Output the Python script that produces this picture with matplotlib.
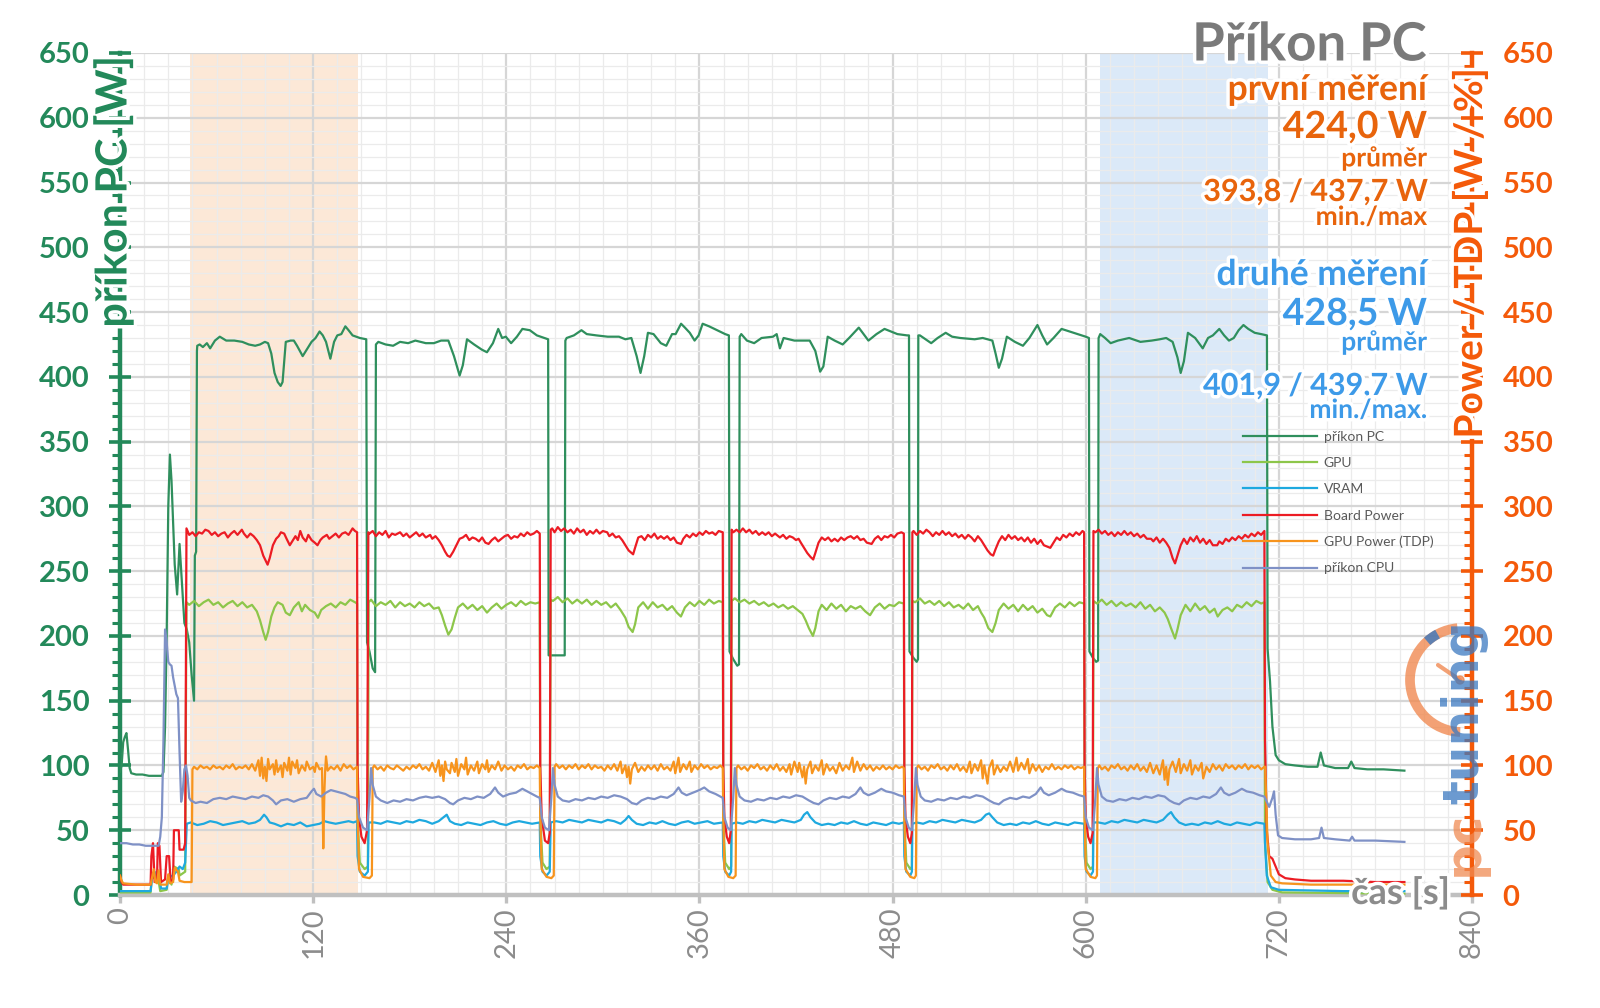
import numpy as np
import matplotlib
matplotlib.use("Agg")
import matplotlib.pyplot as plt
from matplotlib.ticker import MultipleLocator
from matplotlib.lines import Line2D
from matplotlib.patches import Arc, Circle
import matplotlib.patheffects as pe

plt.rcParams['font.family'] = ['Lato', 'DejaVu Sans']

# ---- data (time [s], value) ----
pc = [(0,95),(1,100),(2,118),(3,122),(4,125),(5,112),(6,98),(7,94),(10,93),(14,93),(18,92),(22,92),(26,92),
      (27,95),(28,130),(29,200),(30,300),(31,340),(32,320),(34,255),(35.5,232),(37,271),(38.5,240),(40,210),
      (41.5,205),(43,195),(44.5,170),(46,150),(46.5,262),(47.3,265),(47.8,420),
      (48,424),(49.5,425),(51.5,423),(54,426),(56,422),(59,428),(62,431),(66,428),(71,428),(76,427),(80,425),
      (84,424),(87,425),(90,427),(92,426),(94,418),(96,403),(98,396),(99.8,393),(101,396),(103,427),(106,428),
      (108,428),(110,424),(113.5,416),(116,421),(119,427),(121.5,430),(124,435),(126,432),(128,427),(130.7,414),
      (133,427),(135,432),(137.5,433),(140,439),(142,436),(144.5,432),(149,430),(153,429),
      (153.5,195),(155,188),(157,175),(158.5,172),(159,425),
      (160.5,427),(165,425),(169.7,424),(174,427),(179,426),(183.5,428),(190,426),(195,426),(199.5,428),
      (204,428),(207.5,416),(211,401),(213,409),(215.6,429),(220,425),(224.8,421),(228,419),(231.7,426),
      (235,437),(237.4,430),(239.7,431),(243,426),(246.6,431),(250,437),(254.6,436),(259,432),(263.8,430),
      (266,429),(266.3,185),(276.3,185),(276.7,428),
      (277.5,430),(282,432),(286.7,436),(290,433),(296,432),(303,431),(310,431),(314,429),(317.7,430),
      (321,416),(323.4,403),(325.7,416),(328,434),(331.5,433),(336,426),(339.4,424),(343,433),(345.2,433),
      (348.6,441),(351,438),(354,434),(357,428),(359.5,432),(362,441),(366,439),(371,436),(376,433),(378.3,432),
      (378.7,188),(381,182),(383.5,177),(384.6,178),(385,431),
      (386,433),(389.5,428),(394,426),(398.6,430),(405.7,431),(408,433),(410,422),(412.3,430),(419,428),
      (428.5,428),(432,420),(435,404),(437,408),(439.7,431),(444,428),(449,425),(453,430),(459,438),(465,428),
      (470,433),(475,437),(483,433),(489,432),(490.2,432),
      (490.5,188),(493,183),(495,180),(495.8,182),(496,432),
      (497,432),(504,426),(508,430),(513,434),(517,431),(522,430),(531,429),(536,430),(542,428),(544,418),
      (546,407),(548,414),(551,431),(556,427),(561,424),(565,430),(570,440),(573,432),(576,425),(580,430),
      (585,437),(590,435),(595,433),(600,431),(602,430),
      (602.3,188),(604.5,183),(606.5,180),(607.7,181),(608,430),
      (609,433),(612,430),(615.5,426),(620,428),(627,430),(634,427),(641,428),(646,429),(650,430),(654,427),
      (657,415),(659,403),(661,412),(663.5,434),(668,430),(672.7,422),(676,430),(679,432),(683,437),(686,432),
      (689,428),(692,430),(695,436),(698,440),(701,437),(705,434),(709,433),(712.6,432),
      (713,190),(714.5,165),(716,130),(718,108),(720,104),(724,101),(730,100),(738,99),(744,99),(746,110),
      (748,100),(755,98),(763,98),(765,103),(767,98),(775,97),(785,97),(798,96)]

gpu = [(0,2),(19,2),(20,15),(22,12),(23,18),(25,3),(29,4),(30,15),(32,8),(33.5,22),(36.5,20),(37,15),
       (40.5,18),(41.3,226),
       (43,224),(46,227),(49,223),(52,226),(55,228),(58,224),(61,226),(64,222),(67,225),(70,227),(73,223),
       (76,226),(79,222),(82,224),(85,219),(87,212),(89,203),(90.5,197),(92,203),(94,215),(96,222),(98,226),
       (101,224),(103,218),(105.5,216),(108,222),(111,226),(113,219),(115,224),(118,220),(121,218),(123,214),
       (125,220),(128,223),(131,225),(134,222),(137,226),(140,224),(143,228),(146,226),(147.3,225),
       (147.6,60),(149,25),(152,20),(154,22),(154.5,226),
       (156,228),(159,223),(162,226),(165,224),(168,227),(171,222),(174,226),(177,223),(180,225),(183,222),
       (186,226),(189,223),(192,225),(195,221),(198,222),(200,216),(202,208),(204,201),(206,205),(208,214),
       (210,222),(213,225),(216,221),(219,224),(222,220),(225,223),(228,218),(231,222),(234,225),(237,221),
       (240,224),(243,226),(246,223),(249,227),(252,224),(255,226),(258,225),(260.8,226),
       (261.1,60),(262.5,25),(265,20),(267,22),(267.6,228),
       (269,227),(272,230),(275,226),(278,229),(281,225),(284,228),(287,225),(290,228),(293,224),(296,227),
       (299,224),(302,226),(305,222),(308,225),(311,220),(314,214),(316,207),(318.5,203),(320,209),(322,222),
       (325,226),(328,221),(331,226),(334,222),(337,224),(340,220),(343,223),(346,218),(348.5,215),(351,222),
       (354,226),(357,223),(360,227),(363,224),(366,228),(369,225),(372,227),(374.5,226),
       (374.8,60),(376,25),(378.5,20),(379.7,22),(380,227),
       (382,229),(385,226),(388,228),(391,225),(394,227),(397,224),(400,226),(403,223),(406,225),(409,222),
       (412,224),(415,221),(418,223),(421,220),(424,217),(426,212),(428,206),(430.5,200),(432,206),(434,219),
       (436,224),(439,220),(442,225),(445,221),(448,224),(451,219),(454,223),(457,221),(460,223),(463,219),
       (466,216),(469,222),(472,225),(475,221),(478,224),(481,223),(484,226),(487,225),
       (487.3,60),(488.5,25),(491,20),(492,22),(492.3,227),
       (494,226),(497,229),(500,225),(503,227),(506,224),(509,227),(512,223),(515,226),(518,222),(521,224),
       (524,221),(527,225),(530,220),(533,223),(535,218),(537,214),(539.5,206),(542,203),(544,210),(546,220),
       (549,225),(552,221),(555,224),(558,219),(561,224),(564,220),(567,223),(570,218),(573,221),(576,216),
       (578,215),(581,222),(584,225),(587,222),(590,226),(593,223),(596,226),(599,225),
       (599.3,60),(600.5,25),(603,20),(604.5,22),(604.8,227),
       (607,225),(610,228),(613,224),(616,227),(619,223),(622,226),(625,223),(628,225),(631,222),(634,226),
       (637,221),(640,224),(643,219),(646,222),(649,218),(651,213),(653,206),(655.5,198),(657,205),(659,216),
       (662,224),(665,219),(668,225),(671,220),(674,223),(677,218),(680,221),(682,215),(685,220),(688,222),
       (691,219),(694,224),(697,222),(700,226),(703,223),(706,227),(709,225),(711,226),
       (711.4,40),(713,10),(716,4),(722,2),(798,1)]

vram = [(0,3),(19,3),(20,15),(21.5,18),(23,12),(24,18),(25.5,5),(29,5),(30,14),(33,15),(35,18),(37,22),
        (39,20),(40.5,25),(41.5,55),
        (44,56),(48,54),(52,55),(56,57),(60,56),(64,54),(68,55),(72,56),(76,57),(80,55),(84,56),(87,58),
        (89.5,62),(91,60),(93,56),(96,55),(100,53),(104,55),(108,54),(112,56),(116,53),(120,54),(124,55),
        (127,57),(130,56),(134,55),(138,56),(142,57),(145,56),(147.3,57),
        (147.6,30),(149,18),(152,15),(154,18),(154.5,56),
        (158,56),(162,55),(166,57),(170,56),(174,55),(178,57),(182,56),(186,58),(190,57),(194,55),(198,57),
        (201,60),(203,62),(205,57),(208,55),(212,54),(216,56),(220,55),(224,54),(228,56),(232,57),(236,55),
        (240,54),(244,56),(248,57),(252,56),(256,55),(260.8,56),
        (261.1,30),(262.5,18),(265,15),(267,18),(267.6,56),
        (271,57),(275,56),(279,58),(283,57),(287,56),(291,58),(295,57),(299,56),(303,58),(307,57),(311,55),
        (314,58),(316,61),(318,58),(321,55),(325,54),(329,56),(333,55),(337,57),(341,55),(345,54),(349,56),
        (353,57),(357,55),(361,56),(365,57),(369,55),(374.5,56),
        (374.8,30),(376,18),(378.5,15),(379.7,18),(380,55),
        (383,56),(387,55),(391,57),(395,56),(399,58),(403,57),(407,56),(411,58),(415,57),(419,56),(423,58),
        (425,62),(427,64),(429,60),(432,56),(436,54),(440,55),(444,54),(448,56),(452,55),(456,57),(460,55),
        (464,54),(468,56),(472,55),(476,54),(480,56),(484,55),(487,56),
        (487.3,30),(488.5,18),(491,15),(492,18),(492.3,55),
        (495,56),(499,55),(503,57),(507,56),(511,58),(515,57),(519,56),(523,58),(527,57),(531,56),(535,58),
        (538,62),(540,63),(542,60),(545,56),(549,54),(553,55),(557,54),(561,56),(565,55),(569,57),(573,55),
        (577,54),(581,56),(585,55),(589,54),(593,56),(599,55),
        (599.3,30),(600.5,18),(603,15),(604.5,18),(604.8,56),
        (608,56),(612,55),(616,57),(620,56),(624,58),(628,57),(632,56),(636,58),(640,57),(644,56),(648,58),
        (651,62),(653,64),(655,60),(658,56),(662,54),(666,55),(670,54),(674,56),(678,55),(682,57),(686,55),
        (690,54),(694,56),(698,55),(702,54),(706,56),(711,55),
        (711.4,40),(712.5,15),(715,6),(720,4),(760,3),(798,3)]

board = [(0,15),(1,10),(2,8),(10,8),(19,8),(19.5,30),(20.5,40),(21.5,10),(23,12),(23.5,40),(24.5,38),
         (25.5,10),(28,12),(29,30),(30.5,30),(31.5,10),(33,12),(33.5,50),(36.5,50),(37,35),(39.5,35),
         (40.5,40),(41.3,283),
         (43,278),(45,280),(47,277),(49,280),(51,279),(53,282),(55,281),(57,278),(59,280),(61,277),(63,279),
         (65,280),(67,276),(69,279),(71,281),(73,278),(75.7,282),(77,279),(79,276),(81,279),(83,277),(85,274),
         (87,270),(89,262),(90.5,258),(91.7,255),(93,260),(95,270),(97,275),(98.6,277),(100,280),(102,279),
         (103.5,275),(105.5,270),(107,273),(109,277),(110.5,274),(112,281),(113.5,276),(115.5,273),(117,278),
         (119,274),(121,272),(122.7,270),(124.5,274),(126,276),(128.5,278),(130,275),(132,277),(134,279),
         (136,276),(138,279),(140,280),(142,278),(144.5,283),(146,281),(147.3,280),
         (147.6,100),(148.5,60),(150,45),(152,40),(153.5,50),(154.3,280),
         (155,279),(157,281),(159,277),(161,280),(163,278),(165,281),(167,276),(169,279),(171,278),(174,280),
         (176,277),(178,279),(180,276),(182,278),(184,280),(186,277),(188,279),(190,276),(192.7,278),(194,275),
         (196,277),(198,274),(200,270),(202,265),(203.5,262),(205,261),(207,265),(209,270),(211,275),(213,276),
         (215,278),(217,274),(219,276),(221,275),(223,273),(225,276),(227,272),(229,271),(231,274),(233,276),
         (235,273),(237,275),(239,277),(241,278),(243,275),(245,277),(247,276),(249,279),(251,277),(253,280),
         (255,278),(257,279),(259,281),(260.8,279),
         (261.1,100),(262,60),(264,42),(266,40),(267,48),(267.6,282),
         (268.5,283),(270,280),(272,284),(274,281),(276,283),(278,280),(280,282),(282,279),(284,283),(286,280),
         (288,282),(290,278),(292,281),(294,279),(296,282),(298,279),(300,281),(302.7,280),(304,277),(306,279),
         (308,276),(310,277),(312,274),(314,270),(316,266),(318.8,263),(320,268),(322,276),(324,277),(326,274),
         (328,278),(330,276),(332,279),(334,275),(336,277),(338,275),(340,277),(342,274),(344,276),(346,272),
         (348.6,271),(350,275),(352,278),(354,276),(356,279),(358,277),(360,280),(362,278),(364,281),(366,279),
         (368,280),(370,278),(372,281),(374.5,280),
         (374.8,100),(375.5,60),(377,45),(378.5,40),(379.5,50),(380,282),
         (381,280),(383,282),(385,280),(387,283),(389,280),(391,282),(393,279),(395,281),(397,278),(399,280),
         (401,278),(403,280),(405,277),(407,279),(410,276),(412,278),(414,275),(416,277),(418,276),(420,274),
         (421.6,275),(423,272),(425,268),(427,264),(429,261),(430.7,259),(432,264),(434,272),(436,276),
         (438,274),(440,276),(442,273),(444,275),(446,273),(448,276),(450,274),(452,276),(454,277),(456,275),
         (458,277),(460,274),(462,275),(464,272),(467,271),(469,275),(471,277),(473,274),(475,277),(477,276),
         (479,278),(481,276),(483,279),(485.5,280),(487,279),
         (487.3,100),(488,60),(489.5,45),(491,40),(492,48),(492.3,280),
         (493,281),(495,278),(497,281),(499,279),(501,282),(503,280),(505,277),(507,280),(509,278),(511,281),
         (513,278),(515,280),(517,277),(519,279),(521,276),(523,278),(525,275),(527,278),(529,276),(531,273),
         (533,277),(535,274),(537,270),(539,266),(541,263),(542.5,262),(544,267),(546,273),(548,277),(550,274),
         (552,278),(554,275),(556,277),(558,274),(560,276),(562,273),(564,276),(566,272),(568,275),(570,271),
         (572,274),(574,270),(576,269),(578,268),(580,272),(582,276),(584,274),(586,278),(588,276),(590,279),
         (592,277),(594,280),(596,278),(598,281),(599,280),
         (599.3,100),(600,60),(601.5,45),(603,40),(604.3,48),(604.8,281),
         (606,280),(608,282),(610,279),(612,281),(614,278),(616,280),(618,277),(620,280),(622,278),(624,281),
         (626,278),(628,280),(630,277),(632,279),(634,276),(636,278),(638,275),(640.6,275),(642,273),(644,276),
         (646,272),(648,275),(650,272),(652,268),(654,260),(655.5,256),(657,262),(659,270),(661,275),(663,271),
         (665,276),(667,273),(669,277),(671,272),(673,275),(675,271),(677,274),(679,270),(681.7,270),(683,273),
         (685,271),(687,275),(689,273),(691,276),(693,274),(695,277),(697,275),(699,278),(701,276),(703,279),
         (705,277),(707,280),(709,278),(711,281),
         (711.4,120),(712.5,50),(714,30),(716,28),(718,22),(720,16),(724,13),(730,12),(740,11),(760,11),
         (780,10),(798,10)]

tdp = [(0,15),(1,11),(2,9),(10,8),(19,8),(20,14),(21,20),(22,10),(23,9),(24,19),(25,8),(29,8),(30,16),
       (31,9),(33,10),(34,21),(36,18),(37,11),(40,10),(44.5,10),(45,97),
       (46,99),(48,97),(50,100),(52,98),(54,99),(56,97),(58,100),(60,98),(62,99),(64,97),(66,100),(68,98),
       (70,101),(72,97),(74,99),(76,98),(78,100),(80,97),(82,101),(84,96),(86,104),(87,92),(88,106),(89,90),
       (90,99),(91,88),(92,105),(93,97),(95,101),(96,93),(97,104),(98,95),(100,100),(101,91),(102,102),
       (104,96),(105,106),(106,93),(107,103),(109,98),(110,104),(111,94),(113,100),(115,96),(116,103),
       (118,97),(120,99),(121,95),(122,102),(124,97),(125.5,98),(126.3,36),(127,80),(127.5,97),(128,107),
       (129,96),(131,99),(133,97),(135,100),(137,96),(139,101),(141,98),(143,100),(145,97),(147.3,99),
       (147.6,60),(148.5,20),(151,14),(155,13),(156.5,15),(157,98),
       (158,100),(160,97),(162,99),(164,96),(166,100),(168,98),(170,97),(172,100),(174,98),(176,96),(178,99),
       (180,97),(182,100),(184,98),(186,101),(188,97),(190,99),(192,96),(194,102),(196,95),(198,104),(199,92),
       (200,100),(201,88),(202,103),(203,97),(205,94),(206,102),(208,95),(209,105),(210,92),(212,101),
       (214,97),(215,106),(216,93),(218,100),(220,96),(222,103),(223,94),(225,101),(227,97),(228,104),
       (229,95),(231,100),(233,97),(235,103),(237,96),(239,100),(241,97),(243,99),(245,96),(247,100),
       (249,98),(251,101),(253,97),(255,99),(257,98),(259,100),(260.8,98),
       (261.1,60),(262,20),(265,14),(268,13),(269.5,15),(270,99),
       (271,101),(273,98),(275,100),(277,97),(279,100),(281,98),(283,101),(285,97),(287,100),(289,98),
       (291,101),(293,97),(295,100),(297,98),(299,99),(301,96),(303,100),(305,97),(307,101),(309,96),
       (311,103),(312,94),(314,100),(315,91),(316,99),(317,86),(318,97),(320,102),(322,95),(324,99),(326,96),
       (328,100),(330,97),(332,100),(334,96),(336,101),(338,97),(340,99),(342,96),(344,103),(345,94),
       (347,106),(348,95),(350,101),(352,97),(354,103),(355,95),(357,100),(359,97),(361,101),(363,98),
       (365,100),(367,97),(369,99),(371,98),(373,100),(374.5,98),
       (374.8,60),(375.5,20),(378,14),(381,13),(382.5,15),(383,98),
       (384,100),(386,97),(388,99),(390,96),(392,100),(394,98),(396,101),(398,97),(400,99),(402,96),(404,100),
       (406,97),(408,101),(410,96),(412,99),(414,95),(416,101),(417,93),(419,103),(421,95),(422,102),(424,91),
       (425,99),(426,86),(427,97),(429,103),(430,94),(432,100),(434,96),(436,104),(437,93),(439,101),(441,96),
       (443,99),(445,94),(447,102),(449,96),(451,100),(453,97),(455,106),(456,95),(458,103),(460,96),
       (462,101),(464,97),(466,100),(468,96),(470,99),(472,97),(474,100),(476,97),(478,99),(480,97),(482,100),
       (484,98),(486,99),(487,98),
       (487.3,60),(488,20),(491,14),(493.5,13),(494.5,15),(495,98),
       (496,100),(498,97),(500,99),(502,96),(504,100),(506,98),(508,101),(510,97),(512,99),(514,96),(516,100),
       (518,97),(520,101),(522,96),(524,99),(526,95),(528,103),(529,94),(531,101),(533,96),(535,104),(536,90),
       (537,100),(539,86),(540,98),(542,104),(543,93),(545,100),(547,95),(549,99),(551,96),(553,103),(555,95),
       (557,106),(558,96),(560,102),(562,97),(564,105),(565,94),(567,101),(569,96),(571,100),(573,95),
       (575,99),(577,97),(579,101),(581,97),(583,99),(585,97),(587,100),(589,98),(591,100),(593,97),(595,99),
       (597,98),(599,99),
       (599.3,60),(600,20),(603,14),(606,13),(607,15),(607.5,98),
       (608.5,100),(610,97),(612,99),(614,96),(616,100),(618,98),(620,101),(622,97),(624,99),(626,96),
       (628,100),(630,97),(632,101),(634,96),(636,99),(638,95),(640,102),(642,94),(644,100),(646,93),
       (648,104),(649,89),(650,99),(651,85),(652,97),(654,103),(656,95),(658,105),(659,94),(661,101),(663,96),
       (665,104),(666,93),(668,100),(670,96),(672,102),(673,90),(675,99),(677,95),(679,101),(681,97),
       (683,100),(685,96),(687,101),(689,98),(691,100),(693,97),(695,100),(697,98),(699,101),(701,97),
       (703,100),(705,98),(707,100),(709,97),(711,99),
       (711.5,99),(713,40),(715,15),(718,10),(722,9),(740,8),(770,8),(798,8)]

cpu = [(0,40),(4,40),(8,39),(12,39),(16,38),(20,38),(24,38),(25,45),(26,60),(27,120),(28,205),(29,195),
       (30,180),(31,178),(32,177),(33,168),(35,155),(36,152),(37,110),(38,72),(39,80),(40,97),(41,100),
       (42,92),(43,75),(44,73),
       (47,71),(50,72),(54,71),(58,74),(62,75),(66,74),(70,76),(74,75),(78,74),(82,76),(86,75),(89,77),
       (92,76),(95,73),(97,70),(100,73),(104,74),(108,72),(112,74),(116,75),(119,80),(120.5,82),(122,78),
       (125,76),(128,79),(131,81),(134,80),(137,79),(140,78),(143,76),(146,75),(147.3,74),
       (148.5,60),(151,52),(153.5,50),(155,75),(156,98),(157,85),(159,76),(162,73),
       (166,71),(170,73),(174,72),(178,74),(182,73),(186,75),(190,76),(194,75),(198,76),(202,74),(205,71),
       (207,70),(210,73),(214,75),(218,74),(222,76),(226,75),(230,78),(233,83),(235,79),(238,76),(242,78),
       (246,79),(250,82),(253,80),(256,78),(259,76),(260.8,75),
       (262,60),(264,52),(266.5,50),(268,75),(269,98),(270,85),(272,76),(275,73),
       (279,72),(283,74),(287,73),(291,75),(295,74),(299,76),(303,75),(307,77),(311,76),(315,74),(318,71),
       (321,70),(324,73),(328,75),(332,74),(336,76),(340,75),(344,78),(347,83),(349,79),(352,77),(356,79),
       (360,81),(363,83),(366,80),(370,78),(373,76),(374.5,75),
       (375.5,60),(377.5,52),(379.5,50),(381,75),(382,98),(383,85),(385,76),(388,73),
       (392,72),(396,74),(400,73),(404,75),(408,74),(412,76),(416,75),(420,77),(424,76),(428,73),(431,71),
       (434,70),(437,73),(441,75),(445,74),(449,76),(453,75),(457,78),(460,83),(462,79),(465,77),(469,79),
       (473,82),(476,80),(480,79),(484,77),(487,76),
       (488,60),(490,52),(492,50),(493.5,75),(494.5,98),(495.5,85),(497.5,76),(500,73),
       (504,72),(508,74),(512,73),(516,75),(520,74),(524,76),(528,75),(532,77),(536,76),(540,73),(543,71),
       (546,70),(549,73),(553,75),(557,74),(561,76),(565,75),(569,78),(572,83),(574,79),(577,77),(581,79),
       (585,82),(588,80),(592,79),(596,77),(599,76),
       (600,60),(602,52),(604.5,50),(606,75),(607,98),(608,85),(610,76),(613,73),
       (617,72),(621,74),(625,73),(629,75),(633,74),(637,76),(641,75),(645,77),(649,76),(652,73),(655,71),
       (658,70),(661,73),(665,75),(669,74),(673,76),(677,75),(681,78),(684,83),(686,79),(689,77),(693,79),
       (697,82),(700,80),(704,79),(708,77),(711,76),
       (712.5,72),(714,68),(716,75),(717,80),(718,62),(719.5,46),(722,44),(730,43),(740,43),(745,44),
       (746.5,52),(748,44),(755,43),(764,42),(765.5,45),(767,42),(780,42),(798,41)]

series_labels = ['příkon PC', 'GPU', 'VRAM', 'Board Power', 'GPU Power (TDP)', 'příkon CPU']
series_colors = ['#2f8f5d', '#8dc64a', '#1ea9df', '#ec1c24', '#f7941d', '#7f91c6']
first_span = (43.5, 148)
second_span = (609, 713)

GREEN = '#23895a'
ORANGE = '#f45a0a'
GREY = '#8c8c8c'
glow = [pe.withStroke(linewidth=5, foreground='white')]

fig = plt.figure(figsize=(16, 10.08), dpi=100)
ax = fig.add_axes([120/1600, 1 - 895/1008, 1352/1600, 842/1008])
ax.set_xlim(0, 840)
ax.set_ylim(0, 650)

# shaded measurement windows
ax.axvspan(*first_span, color='#fbdcc2', alpha=0.65, lw=0, zorder=0.3)
ax.axvspan(*second_span, color='#cfe2f6', alpha=0.75, lw=0, zorder=0.3)

ax.xaxis.set_major_locator(MultipleLocator(120))
ax.xaxis.set_minor_locator(MultipleLocator(15))
ax.yaxis.set_major_locator(MultipleLocator(50))
ax.yaxis.set_minor_locator(MultipleLocator(10))
ax.set_axisbelow(True)
ax.grid(which='major', color='#d6d6d6', lw=1.6)
ax.grid(which='minor', color='#ebebeb', lw=0.9)

for data, lab, col in zip([pc, gpu, vram, board, tdp, cpu], series_labels, series_colors):
    arr = np.array(data)
    ax.plot(arr[:, 0], arr[:, 1], color=col, lw=1.6, label=lab, zorder=3)

for s in ['top', 'right']:
    ax.spines[s].set_visible(False)
ax.spines['left'].set_color(GREEN)
ax.spines['left'].set_linewidth(3.2)
ax.spines['bottom'].set_color('#c0c0c0')
ax.spines['bottom'].set_linewidth(3.2)

ax.tick_params(axis='y', which='major', direction='inout', length=16, width=2.6, color=GREEN,
               labelcolor=GREEN, labelsize=21, pad=14)
ax.tick_params(axis='y', which='minor', direction='out', length=6, width=2.2, color=GREEN)
ax.tick_params(axis='x', which='major', direction='out', length=6, width=2.4, color='#c0c0c0',
               labelcolor=GREY, labelsize=21, pad=3, labelrotation=90)
ax.tick_params(axis='x', which='minor', length=0)
for lbl in ax.get_yticklabels():
    lbl.set_fontweight('bold')

ax2 = ax.twinx()
ax2.set_ylim(0, 650)
ax2.yaxis.set_major_locator(MultipleLocator(50))
ax2.yaxis.set_minor_locator(MultipleLocator(10))
for s in ['top', 'left', 'bottom']:
    ax2.spines[s].set_visible(False)
ax2.spines['right'].set_color(ORANGE)
ax2.spines['right'].set_linewidth(3.2)
ax2.tick_params(axis='y', which='major', direction='inout', length=16, width=2.6, color=ORANGE,
                labelcolor=ORANGE, labelsize=21, pad=14)
ax2.tick_params(axis='y', which='minor', direction='in', length=6, width=2.2, color=ORANGE)
for lbl in ax2.get_yticklabels():
    lbl.set_fontweight('bold')

# axis titles
fig.text(113/1600, 1 - 192/1008, 'příkon PC [W]', rotation=90, ha='center', va='center',
         fontsize=31, fontweight='bold', color=GREEN, path_effects=glow)
fig.text(1470/1600, 1 - 253/1008, 'Power / TDP [W / %]', rotation=90, ha='center', va='center',
         fontsize=28, fontweight='bold', color=ORANGE, path_effects=glow)
fig.text(1450/1600, 1 - 893/1008, 'čas [s]', ha='right', va='center', fontsize=26,
         fontweight='bold', color=GREY, path_effects=glow, zorder=5)

# headline block
RX = 1427/1600
c1 = '#e8640c'
c2 = '#3d9ae8'
rows = [('Příkon PC', 45, 38, '#7a7a7a'),
        ('první měření', 90, 25.5, c1), ('424,0 W', 127, 27, c1), ('průměr', 158, 19, c1),
        ('393,8 / 437,7 W', 192, 22, c1), ('min./max', 217, 19, c1),
        ('druhé měření', 275, 25.5, c2), ('428,5 W', 314, 27, c2), ('průměr', 342, 19, c2),
        ('401,9 / 439,7 W', 386, 22, c2), ('min./max.', 410, 19, c2)]
for txt, y, fs, col in rows:
    fig.text(RX, 1 - y/1008, txt, ha='right', va='center', fontsize=fs, fontweight='bold',
             color=col, path_effects=glow, zorder=6)

# legend
handles = [Line2D([], [], color=c, lw=1.6) for c in series_colors]
fig.legend(handles, series_labels, loc='upper left', bbox_to_anchor=(1243/1600, 1 - 431/1008),
           bbox_transform=fig.transFigure, frameon=False, fontsize=10, labelcolor='#595959',
           handlelength=5.3, handletextpad=0.5, labelspacing=1.02, borderpad=0, borderaxespad=0)

# logo
lg = fig.add_axes([1400/1600, 1 - 910/1008, 120/1600, 330/1008])
lg.set_xlim(1400, 1520)
lg.set_ylim(98, 428)
lg.axis('off')
lg.patch.set_alpha(0)
cx, cy = 1462, 328
lg.add_patch(Arc((cx, cy), 104, 104, theta1=95, theta2=268, lw=7, color='#f08a52', alpha=0.8))
lg.add_patch(Arc((cx, cy), 104, 104, theta1=118, theta2=132, lw=7, color='#3a78c0', alpha=0.8))
lg.plot([cx - 2, 1438], [cy, 343], color='#f08a52', lw=3, solid_capstyle='round', alpha=0.8)
lg.add_patch(Circle((cx - 2, cy), 4, color='#f08a52', alpha=0.8))
lg.text(1464, 132, 'pc', rotation=90, ha='center', va='bottom', fontsize=36, fontweight='bold',
        color='#f08a52', alpha=0.75, family='DejaVu Sans')
lg.text(1464, 204, 'tuning', rotation=90, ha='center', va='bottom', fontsize=36, fontweight='bold',
        color='#3a78c0', alpha=0.75, family='DejaVu Sans')

fig.savefig('out.png', dpi=100)
